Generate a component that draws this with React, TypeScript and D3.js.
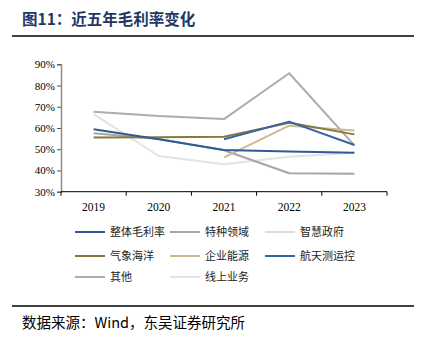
import React, { useEffect, useRef } from "react";
import * as d3 from "d3";

const years = ["2019", "2020", "2021", "2022", "2023"];
const yTicks = [0.3, 0.4, 0.5, 0.6, 0.7, 0.8, 0.9];

const seriesNames = ["整体毛利率", "特种领域", "智慧政府", "气象海洋", "企业能源", "航天测运控", "其他", "线上业务"];
const seriesColors = ["#2E5A95", "#A6A6A6", "#DDDDDD", "#867840", "#C9BC90", "#3563A6", "#ADADAD", "#E3E3E3"];

const zhengti = [0.594, 0.547, 0.496, 0.489, 0.484];
const tezhong = [0.575, 0.548, 0.495, 0.387, 0.385];
const zhihui: (number | null)[] = [null, null, null, null, null];
const qixiang = [0.555, 0.557, 0.559, 0.625, 0.570];
const qiye = [null, null, 0.462, 0.611, 0.588];
const hangtian = [null, null, 0.547, 0.630, 0.520];
const qita = [0.677, 0.656, 0.642, 0.858, 0.518];
const xianshang = [0.665, 0.468, 0.429, 0.465, 0.484];

const seriesValues: (number | null)[][] = [zhengti, tezhong, zhihui, qixiang, qiye, hangtian, qita, xianshang];
const drawOrder = [7, 2, 6, 1, 4, 3, 0, 5];

export default function App() {
  const ref = useRef<SVGSVGElement>(null);
  useEffect(() => {
    const svg = d3.select(ref.current);
    svg.selectAll("*").remove();
    const x = d3.scaleBand().domain(years).range([61, 387]).paddingInner(0).paddingOuter(0);
    const y = d3.scaleLinear().domain([0.3, 0.9]).range([191.7, 64.3]);

    // title
    svg.append("text").attr("x", 22).attr("y", 25).attr("font-family", "Noto Sans CJK SC")
      .attr("font-weight", "bold").attr("font-size", 15.5).attr("fill", "#1F3864").text("图11：近五年毛利率变化");
    svg.append("line").attr("x1", 12).attr("x2", 414).attr("y1", 36).attr("y2", 36).attr("stroke", "#000").attr("stroke-width", 1.5);

    // y axis
    const ya = svg.append("g").attr("transform", "translate(61,0)")
      .call(d3.axisLeft(y).tickValues(yTicks).tickFormat(d3.format(".0%")).tickSize(4));
    ya.select(".domain").attr("stroke", "#8C8C8C").attr("stroke-width", 1.5);
    ya.selectAll(".tick line").attr("stroke", "#555");
    ya.selectAll("text").attr("font-family", "Liberation Serif").attr("font-size", 11).attr("fill", "#000").attr("x", -6);

    // x axis
    const xa = svg.append("g").attr("transform", "translate(0,191.7)");
    xa.append("line").attr("x1", 61).attr("x2", 387).attr("stroke", "#000").attr("stroke-width", 1);
    const tickXs = [...years.map(d => x(d)!), 387];
    xa.selectAll("line.t").data(tickXs).enter().append("line").attr("class", "t")
      .attr("x1", d => d).attr("x2", d => d).attr("y1", 0).attr("y2", 4).attr("stroke", "#000");
    xa.selectAll("text").data(years).enter().append("text")
      .attr("x", d => x(d)! + x.bandwidth() / 2).attr("y", 19).attr("text-anchor", "middle")
      .attr("font-family", "Liberation Serif").attr("font-size", 11.5).text(d => d);

    const line = d3.line<[number, number | null]>()
      .defined(d => d[1] != null)
      .x(d => x(years[d[0]])! + x.bandwidth() / 2)
      .y(d => y(d[1] as number));

    drawOrder.forEach(i => {
      const vals = seriesValues[i].map((v, k) => [k, v] as [number, number | null]);
      svg.append("path").attr("d", line(vals) || "").attr("fill", "none")
        .attr("stroke", seriesColors[i]).attr("stroke-width", 2).attr("stroke-linejoin", "round");
    });

    // legend
    const colX = [75, 170, 265];
    const rowY = [232, 256, 277];
    seriesNames.forEach((name, i) => {
      const cx = colX[i % 3];
      const cy = rowY[Math.floor(i / 3)];
      svg.append("line").attr("x1", cx).attr("x2", cx + 30).attr("y1", cy).attr("y2", cy)
        .attr("stroke", seriesColors[i]).attr("stroke-width", 2);
      svg.append("text").attr("x", cx + 35).attr("y", cy + 4).attr("font-family", "Noto Sans CJK SC")
        .attr("font-size", 11).attr("fill", "#222").text(name);
    });

    // footer
    svg.append("line").attr("x1", 12).attr("x2", 414).attr("y1", 306).attr("y2", 306).attr("stroke", "#000").attr("stroke-width", 1.5);
    svg.append("text").attr("x", 22).attr("y", 328).attr("font-family", "Noto Sans CJK SC")
      .attr("font-size", 14.5).attr("fill", "#000").text("数据来源：Wind，东吴证券研究所");
  }, []);
  return (
    <svg ref={ref} width={428} height={342} style={{ position: "absolute", left: 0, top: 0, background: "#fff" }} />
  );
}
